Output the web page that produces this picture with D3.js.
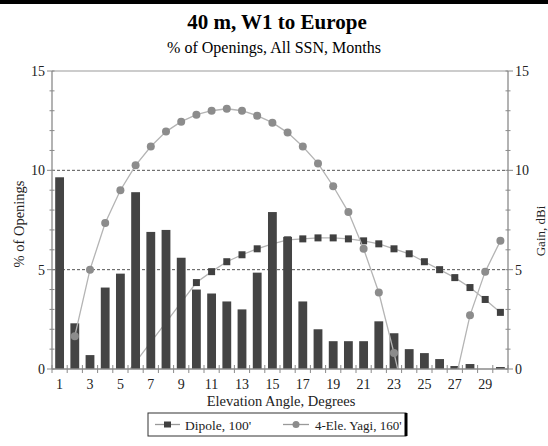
<!DOCTYPE html>
<html><head><meta charset="utf-8">
<script src="https://cdn.jsdelivr.net/npm/d3@7"></script>
<style>body{margin:0;background:#fff;} svg{display:block;font-family:"Liberation Serif","Times New Roman",serif;}</style>
</head><body>
<script>
const angles = d3.range(1, 31);
const openings = [9.65,2.3,0.7,4.1,4.8,8.9,6.9,7.0,5.6,4.0,3.8,3.4,3.0,4.85,7.9,6.65,3.4,2.0,1.4,1.4,1.4,2.4,1.8,1.0,0.8,0.5,0.15,0.25,0,0.1];
const dipoleGain = [null,null,null,null,-0.6,0.35,1.35,2.35,3.35,4.35,4.9,5.4,5.75,6.05,6.3,6.5,6.55,6.6,6.6,6.55,6.45,6.3,6.05,5.8,5.4,5.0,4.6,4.1,3.5,2.85];
const yagiGain = [null,1.65,5.0,7.35,9.0,10.25,11.2,11.95,12.45,12.8,13.0,13.1,13.0,12.75,12.4,11.9,11.2,10.35,9.2,7.9,6.05,3.85,0.8,-2.5,null,null,-0.7,2.7,4.9,6.45];
const leftTicks = [0,5,10,15];
const rightTicks = [0,5,10,15];
const xLabels = angles.filter(a => a % 2 === 1);
const seriesNames = ["Dipole, 100'", "4-Ele. Yagi, 160'"];

const W = 548, H = 446;
const L = 52, R = 508, T = 71, B = 369;
const svg = d3.select("body").append("svg").attr("width", W).attr("height", H);
svg.append("rect").attr("width", W).attr("height", H).attr("fill", "#fff");
svg.append("rect").attr("x", 0).attr("y", 0).attr("width", W).attr("height", 4).attr("fill", "#000");

const x = d3.scaleBand().domain(angles).range([L, R]).paddingInner(0.42).paddingOuter(0.21);
const xc = d => x(d) + x.bandwidth() / 2;
const y = d3.scaleLinear().domain([0, 15]).range([B, T]);
const y2 = d3.scaleLinear().domain([0, 15]).range([B, T]);

// titles
svg.append("text").attr("x", 277).attr("y", 29).attr("text-anchor", "middle")
  .attr("font-size", 21).attr("font-weight", "bold").text("40 m, W1 to Europe");
svg.append("text").attr("x", 274).attr("y", 53).attr("text-anchor", "middle")
  .attr("font-size", 16).text("% of Openings, All SSN, Months");

// gridlines
svg.append("g").selectAll("line").data([5, 10]).join("line")
  .attr("x1", L).attr("x2", R).attr("y1", d => y(d)).attr("y2", d => y(d))
  .attr("stroke", "#555").attr("stroke-width", 1).attr("stroke-dasharray", "3,2");
svg.append("line").attr("x1", L).attr("x2", R).attr("y1", y(15)).attr("y2", y(15))
  .attr("stroke", "#999").attr("stroke-width", 1.2);

// clip
svg.append("clipPath").attr("id", "clip").append("rect")
  .attr("x", L).attr("y", T - 6).attr("width", R - L).attr("height", B - T + 6);

const line = d3.line().defined(d => d[1] !== null).x(d => xc(d[0])).y(d => y2(d[1]));
const dipData = angles.map((a, i) => [a, dipoleGain[i]]);
const yagData = angles.map((a, i) => [a, yagiGain[i]]);

// dipole series (behind the bars)
const dg = svg.append("g").attr("clip-path", "url(#clip)");
dg.append("path").attr("d", line(dipData)).attr("fill", "none").attr("stroke", "#b4b4b4").attr("stroke-width", 1.3);
dg.append("g").selectAll("rect").data(dipData.filter(d => d[1] !== null && d[1] >= 0)).join("rect")
  .attr("x", d => xc(d[0]) - 3.5).attr("y", d => y2(d[1]) - 3.5).attr("width", 7).attr("height", 7)
  .attr("fill", "#404040");

// bars
svg.append("g").selectAll("rect").data(angles).join("rect")
  .attr("x", d => x(d)).attr("width", x.bandwidth())
  .attr("y", (d, i) => y(openings[i])).attr("height", (d, i) => B - y(openings[i]))
  .attr("fill", "#444");

// yagi series
const yg = svg.append("g").attr("clip-path", "url(#clip)");
yg.append("path").attr("d", line(yagData)).attr("fill", "none").attr("stroke", "#b4b4b4").attr("stroke-width", 1.3);
yg.append("g").selectAll("circle").data(yagData.filter(d => d[1] !== null && d[1] >= 0)).join("circle")
  .attr("cx", d => xc(d[0])).attr("cy", d => y2(d[1])).attr("r", 4)
  .attr("fill", "#8c8c8c");

// axes
const axCol = "#8a8a8a";
svg.append("line").attr("x1", L).attr("x2", L).attr("y1", T).attr("y2", B).attr("stroke", axCol).attr("stroke-width", 1.3);
svg.append("line").attr("x1", R).attr("x2", R).attr("y1", T).attr("y2", B).attr("stroke", axCol).attr("stroke-width", 1.3);
svg.append("line").attr("x1", L).attr("x2", R).attr("y1", B).attr("y2", B).attr("stroke", axCol).attr("stroke-width", 1.3);

const minor = d3.range(0, 16);
svg.append("g").selectAll("line").data(minor).join("line")
  .attr("x1", d => d % 5 === 0 ? L - 5 : L - 2.5).attr("x2", L + 2.5)
  .attr("y1", d => y(d)).attr("y2", d => y(d)).attr("stroke", axCol);
svg.append("g").selectAll("line").data(minor).join("line")
  .attr("x1", R - 2.5).attr("x2", d => d % 5 === 0 ? R + 5 : R + 2.5)
  .attr("y1", d => y2(d)).attr("y2", d => y2(d)).attr("stroke", axCol);
svg.append("g").selectAll("text").data(leftTicks).join("text")
  .attr("x", L - 7).attr("y", d => y(d) + 5).attr("text-anchor", "end").attr("font-size", 14).attr("fill", "#222").text(d => d);
svg.append("g").selectAll("text").data(rightTicks).join("text")
  .attr("x", R + 7).attr("y", d => y2(d) + 5).attr("text-anchor", "start").attr("font-size", 14).attr("fill", "#222").text(d => d);

// x ticks at band boundaries
const bounds = d3.range(0, 31).map(i => L + i * (R - L) / 30);
svg.append("g").selectAll("line").data(bounds).join("line")
  .attr("x1", d => d).attr("x2", d => d).attr("y1", B - 4).attr("y2", B + 4).attr("stroke", axCol);
svg.append("g").selectAll("text").data(xLabels).join("text")
  .attr("x", d => xc(d)).attr("y", B + 20).attr("text-anchor", "middle").attr("font-size", 14).attr("fill", "#222").text(d => d);

// axis titles
svg.append("text").attr("x", 281).attr("y", 406).attr("text-anchor", "middle").attr("font-size", 14.5).attr("fill", "#222").text("Elevation Angle, Degrees");
svg.append("text").attr("transform", "translate(24,224) rotate(-90)").attr("text-anchor", "middle").attr("font-size", 14.5).attr("fill", "#222").text("% of Openings");
svg.append("text").attr("transform", "translate(545,231) rotate(-90)").attr("text-anchor", "middle").attr("font-size", 13).attr("fill", "#222").text("Gain, dBi");

// legend
const lgX = 148, lgY = 413, lgW = 258, lgH = 23;
svg.append("rect").attr("x", lgX).attr("y", lgY).attr("width", lgW).attr("height", lgH)
  .attr("fill", "#fff").attr("stroke", "#333").attr("stroke-width", 1);
svg.append("line").attr("x1", lgX + lgW).attr("x2", lgX + lgW).attr("y1", lgY).attr("y2", lgY + lgH).attr("stroke", "#000").attr("stroke-width", 3);
const ly = lgY + lgH / 2;
// dipole
svg.append("line").attr("x1", 155).attr("x2", 180).attr("y1", ly).attr("y2", ly).attr("stroke", "#999").attr("stroke-width", 1.3);
svg.append("rect").attr("x", 164).attr("y", ly - 3).attr("width", 7).attr("height", 6).attr("fill", "#404040");
svg.append("text").attr("x", 185).attr("y", ly + 5).attr("font-size", 13.5).attr("fill", "#222").text(seriesNames[0]);
// yagi
svg.append("line").attr("x1", 283).attr("x2", 309).attr("y1", ly).attr("y2", ly).attr("stroke", "#999").attr("stroke-width", 1.3);
svg.append("circle").attr("cx", 296).attr("cy", ly).attr("r", 3.5).attr("fill", "#8c8c8c");
svg.append("text").attr("x", 315).attr("y", ly + 5).attr("font-size", 13).attr("fill", "#222").text(seriesNames[1]);
</script>
</body></html>
